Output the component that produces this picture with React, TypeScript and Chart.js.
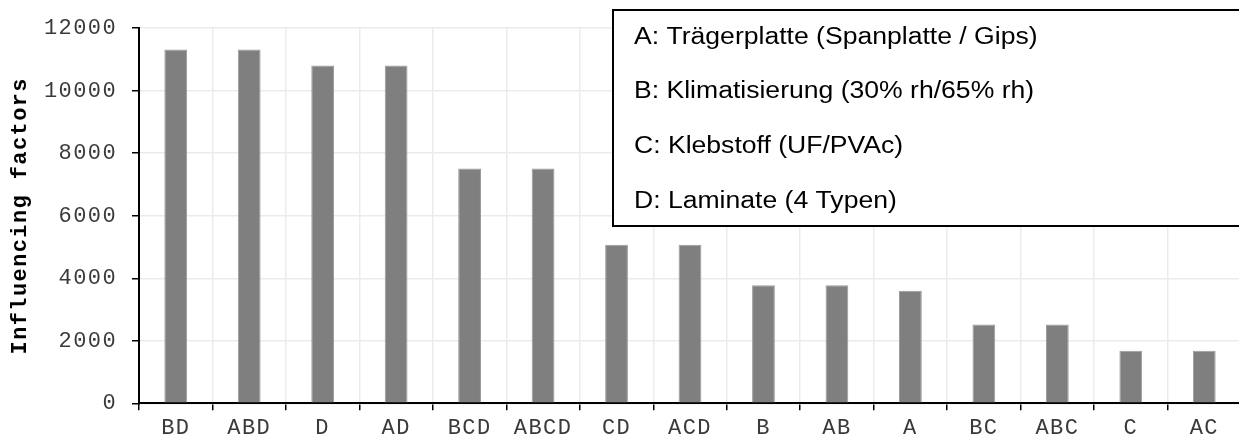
import React, { useEffect, useRef } from "react";
import { Chart, registerables } from "chart.js";

Chart.register(...registerables);

const categories = ["BD", "ABD", "D", "AD", "BCD", "ABCD", "CD", "ACD", "B", "AB", "A", "BC", "ABC", "C", "AC"];
const values = [11320, 11320, 10810, 10810, 7510, 7510, 5070, 5070, 3780, 3780, 3600, 2520, 2520, 1680, 1680];
const yTicks = [0, 2000, 4000, 6000, 8000, 10000, 12000];
const yTitle = "Influencing factors";
const legendLines = [
  "A: Trägerplatte (Spanplatte / Gips)",
  "B: Klimatisierung (30% rh/65% rh)",
  "C: Klebstoff (UF/PVAc)",
  "D: Laminate (4 Typen)",
];

const MONO = '"Liberation Mono", "DejaVu Sans Mono", monospace';

export default function App() {
  const ref = useRef<HTMLCanvasElement | null>(null);

  useEffect(() => {
    if (!ref.current) return;
    const spacingPlugin = {
      id: "spacing",
      beforeDraw(chart: any) {
        (chart.ctx as any).letterSpacing = "1.4px";
      },
    };
    const legendBox = {
      id: "legendBox",
      afterDraw(chart: any) {
        const ctx = chart.ctx as any;
        ctx.save();
        ctx.letterSpacing = "0px";
        ctx.fillStyle = "#ffffff";
        ctx.fillRect(613, 10, 700, 216);
        ctx.strokeStyle = "#000000";
        ctx.lineWidth = 2;
        ctx.strokeRect(613, 10, 700, 216);
        ctx.font = '23px "Liberation Sans", Arial, sans-serif';
        ctx.fillStyle = "#000000";
        ctx.textBaseline = "alphabetic";
        ctx.textAlign = "left";
        const sx = 1.155;
        ctx.translate(634, 0);
        ctx.scale(sx, 1);
        legendLines.forEach((t, i) => ctx.fillText(t, 0, 43.8 + i * 54.6));
        ctx.restore();
      },
    };

    const chart = new Chart(ref.current, {
      type: "bar",
      data: {
        labels: categories,
        datasets: [
          {
            data: values,
            backgroundColor: "#7f7f7f",
            borderColor: "#9a9a9a",
            borderWidth: 1,
            barPercentage: 0.31,
            categoryPercentage: 1,
          },
        ],
      },
      options: {
        animation: false,
        responsive: false,
        devicePixelRatio: 1,
        layout: { padding: { top: 20.7, left: 0, right: 0, bottom: 0 } },
        plugins: { legend: { display: false }, tooltip: { enabled: false } },
        scales: {
          x: {
            offset: true,
            grid: { offset: true, color: "#ebebeb", lineWidth: 1.5, tickColor: "#000000", tickLength: 7 },
            border: { color: "#000000", width: 2 },
            ticks: { color: "#3a3a3a", font: { family: MONO, size: 22 }, padding: 5, maxRotation: 0, autoSkip: false },
            afterFit: (s: any) => {
              s.height = 443 - 403.3;
            },
          },
          y: {
            min: 0,
            max: 12000,
            afterBuildTicks: (s: any) => {
              s.ticks = yTicks.map((v) => ({ value: v }));
            },
            grid: { color: "#ebebeb", lineWidth: 1.5, tickColor: "#000000", tickLength: 7 },
            border: { color: "#000000", width: 2 },
            ticks: {
              color: "#3a3a3a",
              font: { family: MONO, size: 22 },
              padding: 15,
              callback: (v: any) => String(v),
            },
            title: {
              display: true,
              text: yTitle,
              color: "#000000",
              font: { family: MONO, size: 22, weight: "bold" },
              padding: { top: 7, bottom: 0 },
            },
            afterFit: (s: any) => {
              s.width = 139;
            },
          },
        },
      },
      plugins: [spacingPlugin, legendBox],
    });
    return () => chart.destroy();
  }, []);

  return (
    <div
      style={{
        position: "absolute",
        left: 0,
        top: 0,
        width: 1239,
        height: 443,
        overflow: "hidden",
        background: "#ffffff",
      }}
    >
      <canvas ref={ref} width={1241} height={443} style={{ width: 1241, height: 443, display: "block" }} />
    </div>
  );
}
